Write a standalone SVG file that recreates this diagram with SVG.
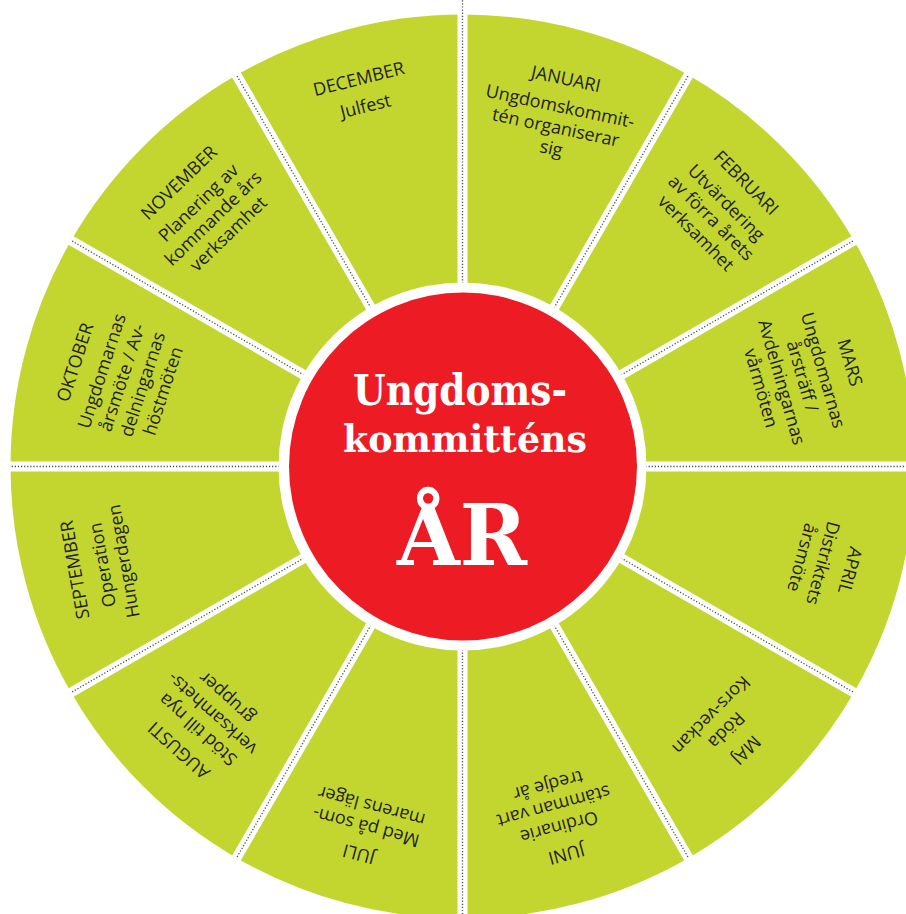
<svg xmlns="http://www.w3.org/2000/svg" xmlns:xlink="http://www.w3.org/1999/xlink" width="906" height="914" viewBox="0 0 906 914">
<defs>
<style>
.sec{fill:#c2d62f}
.t{font-family:"Open Sans","Noto Sans",sans-serif;font-size:18px;fill:#231f20;text-anchor:middle}
.strip{stroke:#fff;stroke-width:10;fill:none}
.dots{stroke:#4a4a4a;stroke-width:1.3;stroke-dasharray:1.2 1.9;fill:none}
.title{font-family:"DejaVu Serif","Liberation Serif",serif;font-weight:bold;fill:#fff;text-anchor:middle}
</style>
<path id="wedge" d="M462.5,466.5 L462.5,14.5 A452,452 0 0 1 688.5,75.1 Z"/>
</defs>
<rect width="906" height="914" fill="#fff"/>

<g id="jan">
<use xlink:href="#wedge" class="sec"/>
<text class="t" transform="rotate(15 462.5 466.5) rotate(-3 462.5 71.5)"><tspan x="462.5" y="71.5">JANUARI</tspan><tspan x="462.5" y="99.5">Ungdomskommit-</tspan><tspan x="462.5" y="121">tén organiserar</tspan><tspan x="462.5" y="142.5">sig</tspan></text>
</g>
<g id="feb">
<use xlink:href="#wedge" class="sec" transform="rotate(30 462.5 466.5)"/>
<text class="t" transform="rotate(45 462.5 466.5)"><tspan x="462.5" y="71.5">FEBRUARI</tspan><tspan x="462.5" y="99.5">Utvärdering</tspan><tspan x="462.5" y="121">av förra årets</tspan><tspan x="462.5" y="142.5">verksamhet</tspan></text>
</g>
<g id="mar">
<use xlink:href="#wedge" class="sec" transform="rotate(60 462.5 466.5)"/>
<text class="t" transform="rotate(75 462.5 466.5) rotate(-1 462.5 71.5)"><tspan x="462.5" y="71.5">MARS</tspan><tspan x="462.5" y="99.5">Ungdomarnas</tspan><tspan x="462.5" y="121">årsträff /</tspan><tspan x="462.5" y="142.5">Avdelningarnas</tspan><tspan x="462.5" y="164">vårmöten</tspan></text>
</g>
<g id="apr">
<use xlink:href="#wedge" class="sec" transform="rotate(90 462.5 466.5)"/>
<text class="t" transform="rotate(105 462.5 466.5)"><tspan x="462.5" y="71.5">APRIL</tspan><tspan x="462.5" y="99.5">Distriktets</tspan><tspan x="462.5" y="121">årsmöte</tspan></text>
</g>
<g id="maj">
<use xlink:href="#wedge" class="sec" transform="rotate(120 462.5 466.5)"/>
<text class="t" transform="rotate(135 462.5 466.5)"><tspan x="462.5" y="71.5">MAJ</tspan><tspan x="462.5" y="99.5">Röda</tspan><tspan x="462.5" y="121">Kors-veckan</tspan></text>
</g>
<g id="jun">
<use xlink:href="#wedge" class="sec" transform="rotate(150 462.5 466.5)"/>
<text class="t" transform="rotate(165 462.5 466.5)"><tspan x="462.5" y="71.5">JUNI</tspan><tspan x="462.5" y="99.5">Ordinarie</tspan><tspan x="462.5" y="121">stämman vart</tspan><tspan x="462.5" y="142.5">tredje år</tspan></text>
</g>
<g id="jul">
<use xlink:href="#wedge" class="sec" transform="rotate(180 462.5 466.5)"/>
<text class="t" transform="rotate(195 462.5 466.5)"><tspan x="462.5" y="71.5">JULI</tspan><tspan x="462.5" y="99.5">Med på som-</tspan><tspan x="462.5" y="121">marens läger</tspan></text>
</g>
<g id="aug">
<use xlink:href="#wedge" class="sec" transform="rotate(210 462.5 466.5)"/>
<text class="t" transform="rotate(225 462.5 466.5) rotate(-3 462.5 71.5)"><tspan x="462.5" y="71.5">AUGUSTI</tspan><tspan x="462.5" y="99.5">Stöd till nya</tspan><tspan x="462.5" y="121">verksamhets-</tspan><tspan x="462.5" y="142.5">grupper</tspan></text>
</g>
<g id="sep">
<use xlink:href="#wedge" class="sec" transform="rotate(240 462.5 466.5)"/>
<text class="t" transform="rotate(255 462.5 466.5) rotate(5 462.5 71.5)"><tspan x="462.5" y="71.5">SEPTEMBER</tspan><tspan x="462.5" y="99.5">Operation</tspan><tspan x="462.5" y="121">Hungerdagen</tspan></text>
</g>
<g id="okt">
<use xlink:href="#wedge" class="sec" transform="rotate(270 462.5 466.5)"/>
<text class="t" transform="rotate(285 462.5 466.5) rotate(3 462.5 71.5)"><tspan x="462.5" y="71.5">OKTOBER</tspan><tspan x="462.5" y="99.5">Ungdomarnas</tspan><tspan x="462.5" y="121">årsmöte / Av-</tspan><tspan x="462.5" y="142.5">delningarnas</tspan><tspan x="462.5" y="164">höstmöten</tspan></text>
</g>
<g id="nov">
<use xlink:href="#wedge" class="sec" transform="rotate(300 462.5 466.5)"/>
<text class="t" transform="rotate(315 462.5 466.5) rotate(1 462.5 71.5)"><tspan x="462.5" y="71.5">NOVEMBER</tspan><tspan x="462.5" y="99.5">Planering av</tspan><tspan x="462.5" y="121">kommande års</tspan><tspan x="462.5" y="142.5">verksamhet</tspan></text>
</g>
<g id="dec">
<use xlink:href="#wedge" class="sec" transform="rotate(330 462.5 466.5)"/>
<text class="t" transform="rotate(345 462.5 466.5) rotate(1 462.5 71.5)"><tspan x="462.5" y="71.5">DECEMBER</tspan><tspan x="462.5" y="99.5">Julfest</tspan></text>
</g>

<g id="dividers">
<path class="strip" d="M462.5,-3.5 L462.5,936.5 M697.5,59.5 L227.5,873.5 M869.5,231.5 L55.5,701.5 M932.5,466.5 L-7.5,466.5 M869.5,701.5 L55.5,231.5 M697.5,873.5 L227.5,59.5"/>
<path class="dots" d="M462.5,283.5 L462.5,0 M554,308 L688.5,75.1 M621,375 L853.9,240.5 M645.5,466.5 L914.5,466.5 M621,558 L853.9,692.5 M554,625 L688.5,857.9 M462.5,649.5 L462.5,918.5 M371,625 L236.5,857.9 M304,558 L71.1,692.5 M279.5,466.5 L10.5,466.5 M304,375 L71.1,240.5 M371,308 L236.5,75.1"/>
</g>

<g id="center">
<circle cx="462.5" cy="466.5" r="184" fill="#fff"/>
<circle cx="463" cy="466.5" r="174" fill="#ed1c24"/>
<text class="title" x="460" y="405" font-size="43" textLength="214" lengthAdjust="spacingAndGlyphs">Ungdoms-</text>
<text class="title" x="465" y="452" font-size="38" textLength="244" lengthAdjust="spacingAndGlyphs">kommitténs</text>
<text class="title" x="462" y="565" font-size="85" textLength="130" lengthAdjust="spacingAndGlyphs">ÅR</text>
</g>
</svg>
